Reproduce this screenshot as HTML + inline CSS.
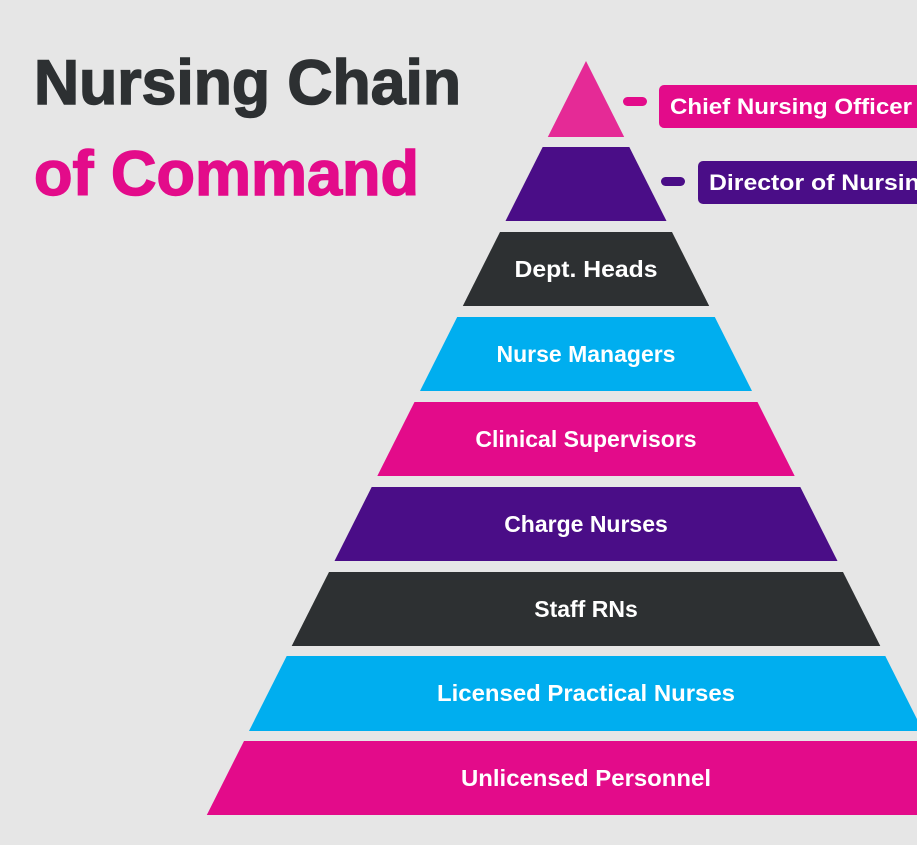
<!DOCTYPE html>
<html><head><meta charset="utf-8"><style>
html,body{margin:0;padding:0;background:#e6e6e6;}
svg{display:block}
text{font-family:"Liberation Sans",sans-serif;font-weight:bold;}
</style></head><body>
<svg width="917" height="845" viewBox="0 0 917 845" xmlns="http://www.w3.org/2000/svg">
<rect width="917" height="845" fill="#e6e6e6"/>
<text x="34" y="104" font-size="63" fill="#2d3032" stroke="#2d3032" stroke-width="1.5" textLength="427" lengthAdjust="spacingAndGlyphs">Nursing Chain</text>
<text x="34" y="195" font-size="63" fill="#e30b8a" stroke="#e30b8a" stroke-width="1.5" textLength="385" lengthAdjust="spacingAndGlyphs">of Command</text>

<polygon points="586,61 624.2,137 547.8,137" fill="#e52a96"/>
<polygon points="542.7,147 629.3,147 666.5,221 505.5,221" fill="#4a0d87"/>
<polygon points="500,232 672,232 709.2,306 462.8,306" fill="#2d3032"/>
<polygon points="457.2,317 714.8,317 752,391 420,391" fill="#00aeef"/>
<polygon points="414.5,402 757.5,402 794.7,476 377.3,476" fill="#e30b8a"/>
<polygon points="371.7,487 800.3,487 837.5,561 334.5,561" fill="#4a0d87"/>
<polygon points="329,572 843,572 880.3,646 291.7,646" fill="#2d3032"/>
<polygon points="286.7,656 885.3,656 923,731 249,731" fill="#00aeef"/>
<polygon points="244,741 928,741 965.2,815 206.8,815" fill="#e30b8a"/>

<g fill="#fff" font-size="23" text-anchor="middle">
<text x="586" y="277" textLength="143" lengthAdjust="spacingAndGlyphs">Dept. Heads</text>
<text x="586" y="362">Nurse Managers</text>
<text x="586" y="447">Clinical Supervisors</text>
<text x="586" y="532">Charge Nurses</text>
<text x="586" y="617">Staff RNs</text>
<text x="586" y="701" textLength="298" lengthAdjust="spacingAndGlyphs">Licensed Practical Nurses</text>
<text x="586" y="786" textLength="250" lengthAdjust="spacingAndGlyphs">Unlicensed Personnel</text>
</g>

<rect x="623" y="97" width="24" height="9" rx="4.5" fill="#e30b8a"/>
<rect x="659" y="85" width="280" height="43" rx="5" fill="#e30b8a"/>
<text x="670" y="114" font-size="22.5" fill="#fff" textLength="242" lengthAdjust="spacingAndGlyphs">Chief Nursing Officer</text>

<rect x="661" y="177" width="24" height="9" rx="4.5" fill="#4a0d87"/>
<rect x="698" y="161" width="260" height="43" rx="5" fill="#4a0d87"/>
<text x="709" y="190" font-size="22.5" fill="#fff" textLength="226" lengthAdjust="spacingAndGlyphs">Director of Nursing</text>
</svg>
</body></html>
